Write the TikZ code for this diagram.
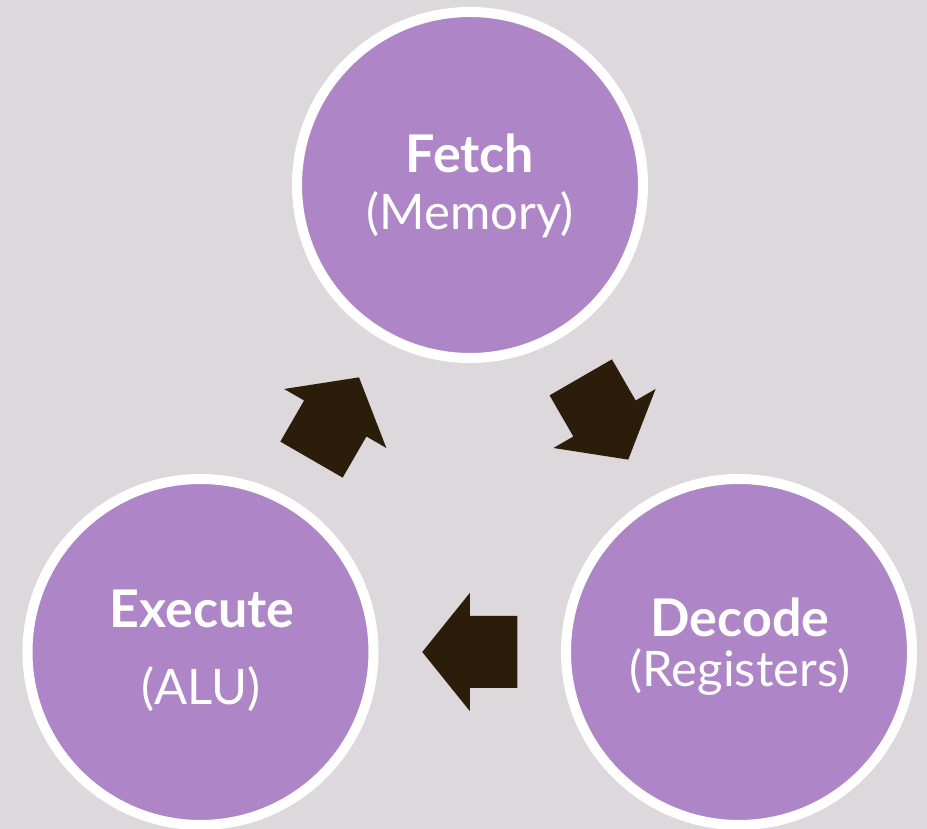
\documentclass[tikz,border=0pt]{standalone}
\usepackage{fontspec}
\setmainfont{Lato}
\usetikzlibrary{calc}

\definecolor{bgcol}{RGB}{220,216,220}
\definecolor{stagefill}{RGB}{174,133,198}
\definecolor{arrowfill}{RGB}{43,29,10}

\tikzset{
  stage/.style={circle, fill=stagefill, draw=white, line width=10pt,
    minimum size=346pt, inner sep=0pt},
  stagetitle/.style={text=white, anchor=base, inner sep=0pt,
    font=\fontsize{52}{58}\selectfont\bfseries},
  stagesub/.style={text=white, anchor=base, inner sep=0pt,
    font=\fontsize{49}{55}\selectfont},
  blockarrow/.pic={
    \fill[arrowfill] (-47.5,-36) -- (0,-36) -- (0,-59) -- (47.5,0)
      -- (0,59) -- (0,36) -- (-47.5,36) -- cycle;
  }
}

\begin{document}
\begin{tikzpicture}[x=1pt, y=1pt]
  % canvas
  \fill[bgcol] (0,0) rectangle (927,829);
  \useasboundingbox (0,0) rectangle (927,829);

  % the three stages of the cycle
  \node[stage] (fetch)   at (470,644)   {};
  \node[stage] (decode)  at (739,177)   {};
  \node[stage] (execute) at (200.5,177) {};

  % labels
  \node[stagetitle] (fetchT)   at ($(fetch)+(0,12)$)        {Fetch};
  \node[stagesub]   (fetchS)   at ($(fetch)+(0,-45)$)       {(Memory)};
  \node[stagetitle] (decodeT)  at ($(decode)+(1,15)$)       {Decode};
  \node[stagesub]   (decodeS)  at ($(decode)+(1,-35)$)      {(Registers)};
  \node[stagetitle] (executeT) at ($(execute)+(1.5,24)$)    {Execute};
  \node[stagesub]   (executeS) at ($(execute)+(0.5,-53)$)   {(ALU)};

  % block arrows between the stages
  \pic[rotate=-60] at ($(fetch)!0.5!(decode)$)   {blockarrow};
  \pic[rotate=180] at ($(decode)!0.5!(execute)$) {blockarrow};
  \pic[rotate=60]  at ($(execute)!0.5!(fetch)$)  {blockarrow};
\end{tikzpicture}
\end{document}
